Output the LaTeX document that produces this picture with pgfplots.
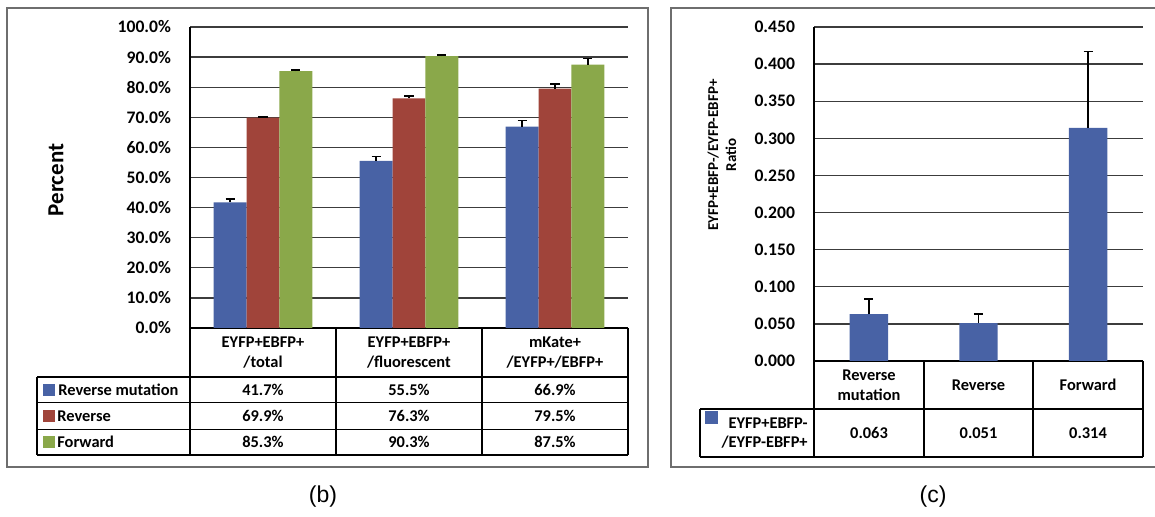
\documentclass[border=0pt]{standalone}
\usepackage{pgfplots}
\pgfplotsset{compat=1.18}
\usepackage{fontspec}
\setmainfont{Carlito}
\newfontfamily\capfont{Liberation Sans}
\definecolor{cblue}{RGB}{72,98,165}
\definecolor{cred}{RGB}{160,68,58}
\definecolor{cgreen}{RGB}{138,168,74}
\definecolor{gridc}{RGB}{60,60,60}
\definecolor{framec}{RGB}{110,110,110}
\begin{document}
\begin{tikzpicture}[x=1pt,y=1pt]
\useasboundingbox (0,0) rectangle (577.5,258.5);
% outer frames
\draw[framec, line width=0.7pt] (3.5,25) rectangle (324,254.5);
\draw[framec, line width=0.7pt] (577.5,254.5) -- (335.5,254.5) -- (335.5,25) -- (577.5,25);
% ---------------- panel (b) ----------------
\begin{axis}[
  at={(95pt,94.5pt)}, anchor=south west,
  width=219pt, height=150.5pt, scale only axis,
  ymin=0, ymax=100, xmin=-0.5, xmax=2.5,
  ytick={0,10,20,30,40,50,60,70,80,90,100},
  xtick=\empty,
  ytick style={draw=none},
  ymajorgrids, grid style={gridc, line width=0.65pt},
  axis lines*=left, axis line style={-, black, line width=0.7pt},
  /pgf/number format/assume math mode=true,
  yticklabel={\pgfmathprintnumber[fixed,fixed zerofill,precision=1]{\tick}\%},
  yticklabel style={font=\bfseries\fontsize{8.8}{10}\selectfont, xshift=-6pt},
  ybar=0pt, bar width=0.225,
  error bars/y dir=plus, error bars/y explicit,
  error bars/error bar style={black, line width=0.8pt},
  error bars/error mark options={rotate=90, black, mark size=2.3pt, line width=0.9pt},
]
\addplot[fill=cblue, draw=none] coordinates {(0,41.7) +- (0,1.1) (1,55.5) +- (0,1.5) (2,66.9) +- (0,2.0)};
\addplot[fill=cred, draw=none] coordinates {(0,69.9) +- (0,0.3) (1,76.3) +- (0,0.7) (2,79.5) +- (0,1.5)};
\addplot[fill=cgreen, draw=none] coordinates {(0,85.3) +- (0,0.3) (1,90.3) +- (0,0.3) (2,87.5) +- (0,2.0)};
\end{axis}
% table (b)
\begin{scope}[black, line width=0.6pt]
\draw (18.5,70) -- (314,70);
\draw (18.5,57.15) -- (314,57.15);
\draw (18.5,43.85) -- (314,43.85);
\draw (18.5,31) -- (314,31);
\draw (18.5,70) -- (18.5,31);
\draw (95,94.5) -- (95,31);
\draw (168,94.5) -- (168,31);
\draw (241,94.5) -- (241,31);
\draw (314,94.5) -- (314,31);
\end{scope}
\begin{scope}[every node/.style={font=\bfseries\fontsize{8.2}{9.8}\selectfont, inner sep=0pt, align=center}]
\node at (131.5,82.25) {EYFP+EBFP+\\/total};
\node at (204.5,82.25) {EYFP+EBFP+\\/fluorescent};
\node at (277.5,82.25) {mKate+\\/EYFP+/EBFP+};
\node at (131.5,63.6) {41.7\%};
\node at (204.5,63.6) {55.5\%};
\node at (277.5,63.6) {66.9\%};
\node at (131.5,50.5) {69.9\%};
\node at (204.5,50.5) {76.3\%};
\node at (277.5,50.5) {79.5\%};
\node at (131.5,37.4) {85.3\%};
\node at (204.5,37.4) {90.3\%};
\node at (277.5,37.4) {87.5\%};
\node[anchor=west] at (29,63.6) {Reverse mutation};
\node[anchor=west] at (28.5,50.5) {Reverse};
\node[anchor=west] at (28.5,37.4) {Forward};
\end{scope}
\fill[cblue] (21.5,60.6) rectangle (27.5,66.6);
\fill[cred] (21.5,47.5) rectangle (27.5,53.5);
\fill[cgreen] (21.5,34.4) rectangle (27.5,40.4);
\node[rotate=90, font=\bfseries\fontsize{11.5}{13}\selectfont] at (28,168.5) {Percent};
\node[font=\capfont\fontsize{11.5}{13}\selectfont] at (161.5,10) {(b)};
% ---------------- panel (c) ----------------
\begin{axis}[
  at={(407pt,78pt)}, anchor=south west,
  width=164.5pt, height=167pt, scale only axis,
  ymin=0, ymax=0.45, xmin=-0.5, xmax=2.5,
  ytick={0,0.05,0.1,0.15,0.2,0.25,0.3,0.35,0.4,0.45},
  xtick=\empty,
  ytick style={draw=none},
  ymajorgrids, grid style={gridc, line width=0.65pt},
  axis lines*=left, axis line style={-, black, line width=0.7pt},
  /pgf/number format/assume math mode=true,
  yticklabel={\pgfmathprintnumber[fixed,fixed zerofill,precision=3]{\tick}},
  yticklabel style={font=\bfseries\fontsize{8.8}{10}\selectfont, xshift=-6pt},
  ybar=0pt, bar width=0.35,
  error bars/y dir=plus, error bars/y explicit,
  error bars/error bar style={black, line width=0.8pt},
  error bars/error mark options={rotate=90, black, mark size=2.3pt, line width=0.9pt},
]
\addplot[fill=cblue, draw=none] coordinates {(0,0.063) +- (0,0.020) (1,0.051) +- (0,0.012) (2,0.314) +- (0,0.103)};
\end{axis}
% table (c)
\begin{scope}[black, line width=0.6pt]
\draw (350,54) -- (571.5,54);
\draw (350,30) -- (571.5,30);
\draw (350,54) -- (350,30);
\draw (407,78) -- (407,30);
\draw (462,78) -- (462,30);
\draw (516.5,78) -- (516.5,30);
\draw (571.5,78) -- (571.5,30);
\end{scope}
\begin{scope}[every node/.style={font=\bfseries\fontsize{8.2}{9.8}\selectfont, inner sep=0pt, align=center}]
\node at (434.5,66) {Reverse\\mutation};
\node at (489.25,66) {Reverse};
\node at (544,66) {Forward};
\node at (434.5,42) {0.063};
\node at (489.25,42) {0.051};
\node at (544,42) {0.314};
\node[anchor=east, align=right] at (404,42) {EYFP+EBFP-\\/EYFP-EBFP+};
\end{scope}
\fill[cblue] (352.5,46.5) rectangle (359,53);
\node[rotate=90, align=center, font=\bfseries\fontsize{7.5}{9}\selectfont] at (361,181) {EYFP+EBFP-/EYFP-EBFP+\\Ratio};
\node[font=\capfont\fontsize{11.5}{13}\selectfont] at (466.5,10) {(c)};
\end{tikzpicture}
\end{document}
